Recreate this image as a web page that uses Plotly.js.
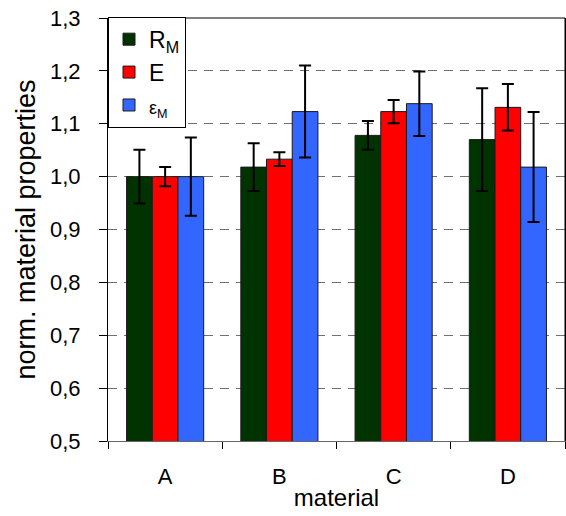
<!DOCTYPE html>
<html>
<head>
<meta charset="utf-8">
<script src="https://cdn.plot.ly/plotly-3.0.1.min.js"></script>
<style>html,body{margin:0;padding:0;background:#fff;}#chart{width:566px;height:516px;}</style>
</head>
<body>
<div id="chart"></div>
<script>
// Data
const categories = ['A', 'B', 'C', 'D'];
const seriesNames = ['R<sub>M</sub>', 'E', '<span style="font-size:18px">ε<sub>M</sub></span>'];
const rmValues = [1.000, 1.018, 1.078, 1.070];
const rmErrors = [0.051, 0.045, 0.027, 0.097];
const eValues = [1.000, 1.033, 1.123, 1.131];
const eErrors = [0.018, 0.013, 0.022, 0.044];
const epsValues = [1.000, 1.123, 1.138, 1.018];
const epsErrors = [0.074, 0.087, 0.061, 0.104];
const yTickVals = [0.5, 0.6, 0.7, 0.8, 0.9, 1.0, 1.1, 1.2, 1.3];

const colors = ['#003300', '#FF0000', '#3366FF'];
const values = [rmValues, eValues, epsValues];
const errors = [rmErrors, eErrors, epsErrors];

const traces = values.map((v, i) => ({
  type: 'bar',
  x: categories,
  y: v,
  base: 0,
  name: seriesNames[i],
  marker: {color: colors[i], line: {color: '#1a1a1a', width: 1}},
  error_y: {type: 'data', array: errors[i], visible: true, color: '#000', thickness: 2, width: 6},
  hoverinfo: 'none'
}));

const layout = {
  width: 566,
  height: 516,
  margin: {l: 108, r: 1, t: 18, b: 75},
  paper_bgcolor: '#fff',
  plot_bgcolor: '#fff',
  font: {family: 'Liberation Sans, Arial, sans-serif', color: '#000'},
  separators: ',.',
  barmode: 'group',
  bargap: 0.325,
  bargroupgap: 0,
  showlegend: true,
  legend: {
    x: 0, y: 1.003, xanchor: 'left', yanchor: 'top',
    bgcolor: '#fff', bordercolor: '#000', borderwidth: 1,
    font: {size: 23, family: 'Liberation Sans, Arial, sans-serif'},
    tracegroupgap: 0
  },
  xaxis: {
    type: 'category',
    tickson: 'boundaries',
    ticks: 'outside', ticklen: 7, tickcolor: '#000', tickwidth: 1,
    ticklabelstandoff: 16,
    showline: true, linecolor: '#666', linewidth: 1, mirror: false,
    tickfont: {size: 22},
    title: {text: 'material', font: {size: 24}, standoff: 0},
    showgrid: false,
    zeroline: false
  },
  yaxis: {
    range: [0.5, 1.3],
    tickvals: yTickVals,
    tickformat: '.1f',
    ticks: 'outside', ticklen: 8, tickcolor: '#000', tickwidth: 1,
    ticklabelstandoff: 14,
    showline: true, linecolor: '#000', linewidth: 1, mirror: true,
    tickfont: {size: 22},
    title: {text: 'norm. material properties', font: {size: 27}, standoff: 6},
    showgrid: true, gridcolor: '#707070', griddash: '9px,7px', gridwidth: 1.2,
    zeroline: false
  },
  shapes: [
    {type: 'line', xref: 'paper', yref: 'paper', x0: 1, x1: 1, y0: 0, y1: 1, line: {color: '#000', width: 1}},
    {type: 'line', xref: 'paper', yref: 'paper', x0: 0, x1: 1, y0: 1, y1: 1, line: {color: '#000', width: 1}}
  ]
};

Plotly.newPlot('chart', traces, layout, {displayModeBar: false, staticPlot: true});
</script>
</body>
</html>
